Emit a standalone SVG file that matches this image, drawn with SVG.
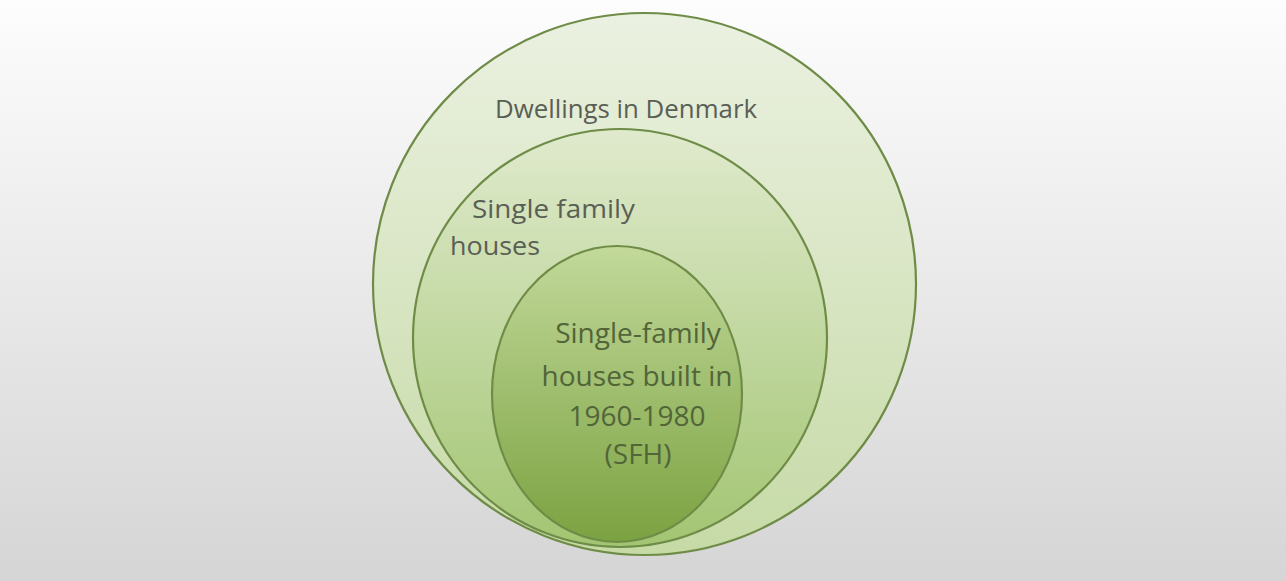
<svg xmlns="http://www.w3.org/2000/svg" width="1286" height="581" viewBox="0 0 1286 581">
  <defs>
    <linearGradient id="bg" x1="0" y1="0" x2="0" y2="1">
      <stop offset="0" stop-color="#fdfdfd"/>
      <stop offset="1" stop-color="#d5d5d5"/>
    </linearGradient>
    <linearGradient id="g1" x1="0" y1="0" x2="0" y2="1">
      <stop offset="0" stop-color="#ebf1e1"/>
      <stop offset="1" stop-color="#c6daa6"/>
    </linearGradient>
    <linearGradient id="g2" x1="0" y1="0" x2="0" y2="1">
      <stop offset="0" stop-color="#e0eacd"/>
      <stop offset="1" stop-color="#a2c572"/>
    </linearGradient>
    <linearGradient id="g3" x1="0" y1="0" x2="0" y2="1">
      <stop offset="0" stop-color="#c2d99a"/>
      <stop offset="1" stop-color="#7ba241"/>
    </linearGradient>
    <style>
      .ring { stroke: #6f8c47; stroke-width: 2.2; }
      .lbl { font-family: "Open Sans", "Liberation Sans", sans-serif; font-size: 25px; fill: #5a5f55; }
      .lbl2 { font-family: "Open Sans", "Liberation Sans", sans-serif; font-size: 28px; fill: #526539; text-anchor: middle; }
    </style>
  </defs>
  <rect x="0" y="0" width="1286" height="581" fill="url(#bg)"/>
  <g id="dwellings">
    <ellipse class="ring" cx="644.5" cy="284" rx="271.5" ry="271" fill="url(#g1)"/>
    <text class="lbl" x="495" y="118" textLength="262" lengthAdjust="spacingAndGlyphs">Dwellings in Denmark</text>
  </g>
  <g id="single-family">
    <ellipse class="ring" cx="620" cy="338" rx="207" ry="209" fill="url(#g2)"/>
    <text class="lbl" x="472" y="218" textLength="163" lengthAdjust="spacingAndGlyphs">Single family</text>
    <text class="lbl" x="450" y="255" textLength="90" lengthAdjust="spacingAndGlyphs">houses</text>
  </g>
  <g id="sfh">
    <ellipse class="ring" cx="617" cy="394" rx="125" ry="148" fill="url(#g3)"/>
    <text class="lbl2" x="638" y="343">Single-family</text>
    <text class="lbl2" x="637" y="386">houses built in</text>
    <text class="lbl2" x="637" y="426">1960-1980</text>
    <text class="lbl2" x="638" y="464">(SFH)</text>
  </g>
  <g id="connectors"/>
</svg>
